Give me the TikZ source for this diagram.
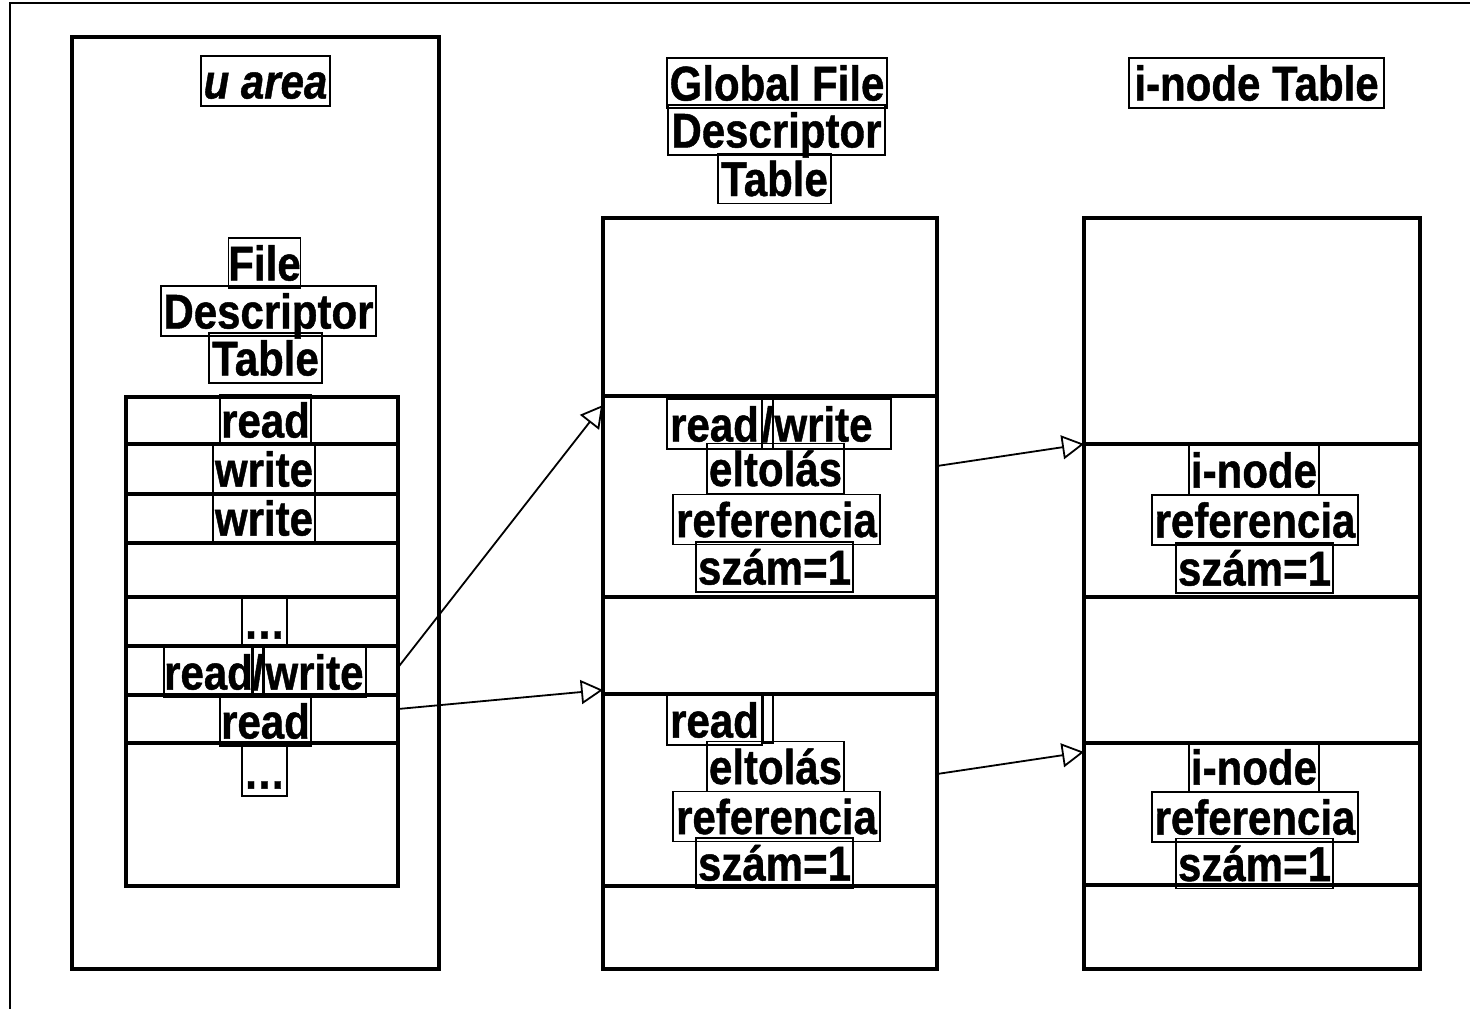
\documentclass[tikz,border=0pt]{standalone}
\usepackage{fontspec}
\setmainfont{Liberation Sans}[BoldFeatures={FakeBold=1}, BoldItalicFeatures={FakeBold=1}]
\usetikzlibrary{arrows.meta}

% label text is set slightly taller than the face's natural proportions
\newcommand\tallt[1]{\scalebox{1}[1.16]{#1}}

\tikzset{
  cell/.style={draw, line width=3.2pt, inner sep=0pt, outer sep=0pt},
  lbl/.style={draw, line width=1.6pt, inner xsep=0pt, inner ysep=1.5pt,
    text height=41pt, text depth=6pt,
    font=\fontsize{42}{48}\selectfont\bfseries},
  link/.style={line width=1.8pt,
    -{Triangle[open, length=22pt, width=24pt, line width=1.8pt]}}
}

\begin{document}
\begin{tikzpicture}[x=1pt, y=-1pt]
\useasboundingbox (0,0) rectangle (1470,1009);

% page frame
\draw[line width=2pt] (10,1009) -- (10,3) -- (1470,3);

% ---- u area ----
\node[cell, minimum width=367pt, minimum height=932pt] (ua) at (255.5,503) {};
\node[lbl, font=\fontsize{42}{48}\selectfont\bfseries\itshape, minimum width=129pt] (uat) at (265.5,81) {\tallt{u area}};
\node[lbl, minimum width=72pt]  (fd1) at (264.5,263) {\tallt{File}};
\node[lbl, minimum width=215pt] (fd2) at (268.5,311) {\tallt{Descriptor}};
\node[lbl, minimum width=113pt] (fd3) at (265.5,358) {\tallt{Table}};

% file descriptor table rows
\node[cell, minimum width=272pt, minimum height=47pt]  (f1) at (262,420.5) {};
\node[cell, minimum width=272pt, minimum height=50pt]  (f2) at (262,469) {};
\node[cell, minimum width=272pt, minimum height=49pt]  (f3) at (262,518.5) {};
\node[cell, minimum width=272pt, minimum height=54pt]  (f4) at (262,570) {};
\node[cell, minimum width=272pt, minimum height=49pt]  (f5) at (262,621.5) {};
\node[cell, minimum width=272pt, minimum height=49pt]  (f6) at (262,670.5) {};
\node[cell, minimum width=272pt, minimum height=48pt]  (f7) at (262,719) {};
\node[cell, minimum width=272pt, minimum height=143pt] (f8) at (262,814.5) {};

\node[lbl, minimum width=91pt]  (fr1)  at (265.5,420) {\tallt{read}};
\node[lbl, minimum width=102pt] (fr2)  at (264,469) {\tallt{write}};
\node[lbl, minimum width=102pt] (fr3)  at (264,518) {\tallt{write}};
\node[lbl, minimum width=45pt]  (fr5)  at (264.5,621) {\tallt{…}};
\node[lbl, minimum width=89pt]  (fr6a) at (208.5,672) {\tallt{read}};
\node[lbl, minimum width=10pt]  (fr6b) at (258,672) {\tallt{/}};
\node[lbl, minimum width=103pt] (fr6c) at (314.5,672) {\tallt{write}};
\node[lbl, minimum width=91pt]  (fr7)  at (265.5,721) {\tallt{read}};
\node[lbl, minimum width=45pt]  (fr8)  at (264.5,771) {\tallt{…}};

% ---- global file descriptor table ----
\node[lbl, minimum width=220pt] (gt1) at (777,83) {\tallt{Global File}};
\node[lbl, minimum width=217pt] (gt2) at (776.5,130) {\tallt{Descriptor}};
\node[lbl, minimum width=113pt] (gt3) at (774.5,178.5) {\tallt{Table}};

\node[cell, minimum width=334pt, minimum height=178pt] (g0) at (770,307) {};
\node[cell, minimum width=334pt, minimum height=201pt] (g1) at (770,496.5) {};
\node[cell, minimum width=334pt, minimum height=97pt]  (g2) at (770,645.5) {};
\node[cell, minimum width=334pt, minimum height=192pt] (g3) at (770,790) {};
\node[cell, minimum width=334pt, minimum height=83pt]  (g4) at (770,927.5) {};

\node[lbl, minimum width=95pt]  (ga1) at (714.5,424) {\tallt{read}};
\node[lbl, minimum width=11pt]  (ga2) at (767.5,424) {\tallt{/}};
\node[lbl, minimum width=118pt] (ga3) at (832,424) {\makebox[115pt][l]{\tallt{write}}};
\node[lbl, minimum width=137pt] (ga4) at (775.5,468.5) {\tallt{eltolás}};
\node[lbl, minimum width=207pt] (ga5) at (776.5,519.5) {\tallt{referencia}};
\node[lbl, minimum width=157pt] (ga6) at (774.5,567) {\tallt{szám=1}};

\node[lbl, minimum width=95pt]  (gb1) at (714.5,720) {\tallt{read}};
\node[lbl, minimum width=10pt]  (gb2) at (768,718) {};
\node[lbl, minimum width=137pt] (gb3) at (775.5,766.5) {\tallt{eltolás}};
\node[lbl, minimum width=207pt] (gb4) at (776.5,816.5) {\tallt{referencia}};
\node[lbl, minimum width=157pt] (gb5) at (774.5,863) {\tallt{szám=1}};

% ---- i-node table ----
\node[lbl, minimum width=255pt] (it) at (1256.5,83) {\tallt{i-node Table}};

\node[cell, minimum width=336pt, minimum height=226pt] (i0) at (1252,331) {};
\node[cell, minimum width=336pt, minimum height=153pt] (i1) at (1252,520.5) {};
\node[cell, minimum width=336pt, minimum height=146pt] (i2) at (1252,670) {};
\node[cell, minimum width=336pt, minimum height=142pt] (i3) at (1252,814) {};
\node[cell, minimum width=336pt, minimum height=84pt]  (i4) at (1252,927) {};

\node[lbl, minimum width=130pt] (ia1) at (1254,470) {\tallt{i-node}};
\node[lbl, minimum width=206pt] (ia2) at (1255,520) {\tallt{referencia}};
\node[lbl, minimum width=157pt] (ia3) at (1254.5,568) {\tallt{szám=1}};

\node[lbl, minimum width=130pt] (ib1) at (1254,767) {\tallt{i-node}};
\node[lbl, minimum width=206pt] (ib2) at (1255,817) {\tallt{referencia}};
\node[lbl, minimum width=157pt] (ib3) at (1254.5,863.5) {\tallt{szám=1}};

% ---- pointers ----
\draw[link] ([yshift=3pt]f6.east) -- ([yshift=-9pt]g1.north west);
\draw[link] ([yshift=10pt]f7.east) -- ([yshift=4pt]g3.north west);
\draw[link] ([yshift=-70pt]g1.north east) -- (i1.north west);
\draw[link] ([yshift=-80pt]g3.north east) -- ([yshift=-9pt]i3.north west);
\end{tikzpicture}
\end{document}
